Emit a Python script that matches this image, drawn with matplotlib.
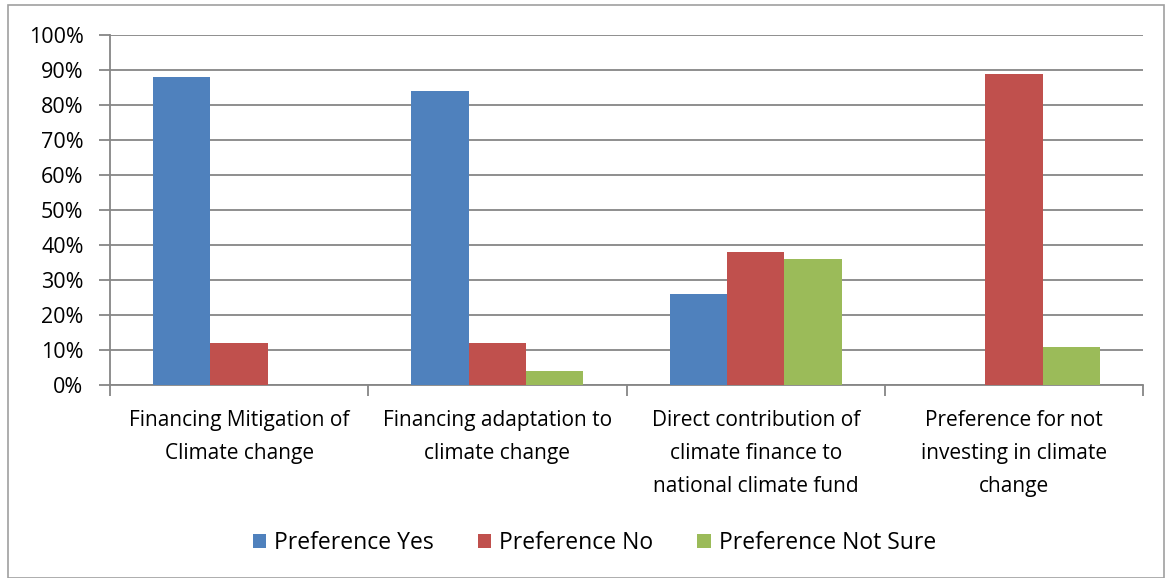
import numpy as np
import matplotlib.pyplot as plt
from matplotlib.patches import Rectangle
from matplotlib.ticker import PercentFormatter

categories = [
    'Financing Mitigation of\nClimate change',
    'Financing adaptation to\nclimate change',
    'Direct contribution of\nclimate finance to\nnational climate fund',
    'Preference for not\ninvesting in climate\nchange',
]
series_names = ['Preference Yes', 'Preference No', 'Preference Not Sure']
pref_yes = [88, 84, 26, 0]
pref_no = [12, 12, 38, 89]
pref_not_sure = [0, 4, 36, 11]

colors = ['#4F81BD', '#C0504D', '#9BBB59']
plt.rcParams['font.family'] = ['Open Sans', 'DejaVu Sans']

fig = plt.figure(figsize=[11.7, 5.78], dpi=100)
ax = fig.add_axes([110 / 1170, 1 - 385 / 578, 1033 / 1170, 350 / 578])

x = np.arange(len(categories))
width = 1 / 4.5
for i, (vals, name) in enumerate(zip([pref_yes, pref_no, pref_not_sure], series_names)):
    ax.bar(x + (i - 1) * width, vals, width, color=colors[i], label=name, zorder=3)

ax.set_xlim(-0.5, len(categories) - 0.5)
ax.set_ylim(0, 100)
ax.set_yticks(np.arange(0, 101, 10))
ax.yaxis.set_major_formatter(PercentFormatter(decimals=0))
ax.grid(axis='y', color='#868686', linewidth=1.3, zorder=0)
ax.tick_params(axis='y', length=8, width=1.3, color='#868686', labelsize=15.5, pad=11)

# category labels, tick marks sit on the group boundaries
ax.set_xticks(np.arange(-0.5, len(categories)), minor=False)
ax.set_xticklabels([])
ax.set_xticks(x, minor=True)
ax.set_xticklabels(categories, minor=True, fontsize=15, linespacing=1.75)
ax.tick_params(axis='x', which='major', length=8, width=1.3, color='#868686')
ax.tick_params(axis='x', which='minor', length=0, pad=18)

for side in ['top', 'right']:
    ax.spines[side].set_visible(False)
for side in ['left', 'bottom']:
    ax.spines[side].set_color('#868686')
    ax.spines[side].set_linewidth(1.3)

fig.legend(loc='center', bbox_to_anchor=(0.508, 1 - 543 / 578), ncol=3, frameon=False,
           fontsize=16.5, handlelength=0.6, handleheight=0.6, columnspacing=1.9,
           handletextpad=0.35)

fig.patches.append(Rectangle((8 / 1170, 0), 1 - 14 / 1170, 1 - 5 / 578, transform=fig.transFigure,
                             fill=False, edgecolor='#A0A0A0', linewidth=1.2))

fig.savefig('out.png', dpi=100)
